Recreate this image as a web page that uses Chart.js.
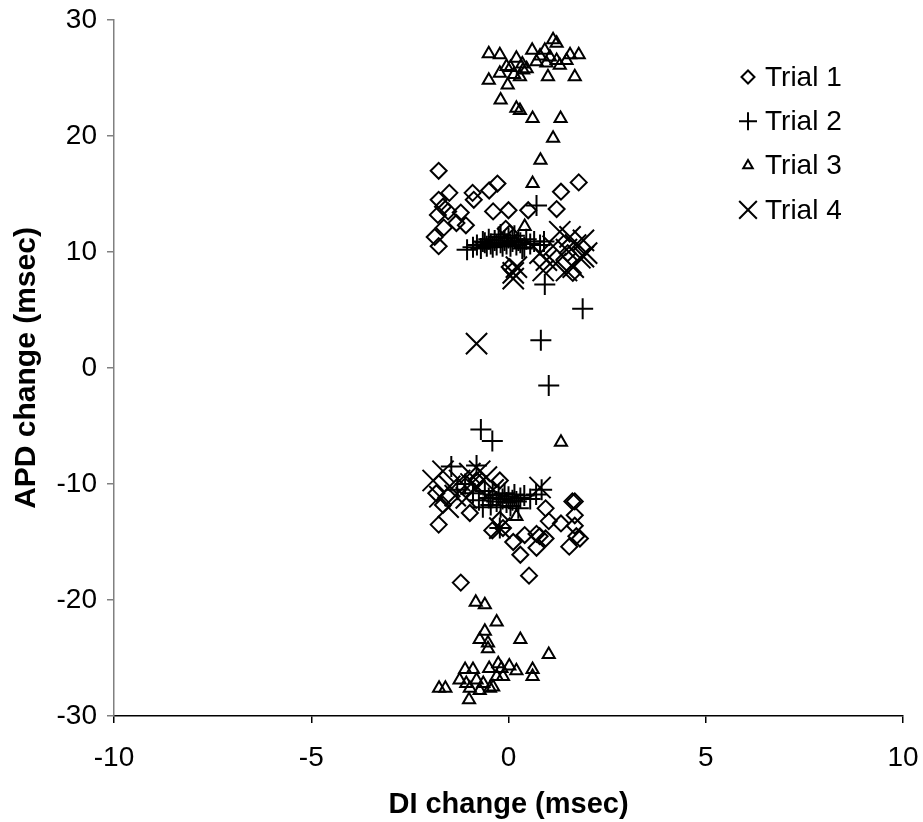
<!DOCTYPE html>
<html>
<head>
<meta charset="utf-8">
<script src="https://cdn.jsdelivr.net/npm/chart.js@4.4.1/dist/chart.umd.min.js"></script>
<style>
  html, body { margin: 0; padding: 0; background: #fff; }
  #wrap { width: 923px; height: 822px; }
</style>
</head>
<body>
<div id="wrap"><canvas id="apd-chart" width="923" height="822"></canvas></div>
<script>
// ── data: [DI change, APD change] ──
const trial1 = [
  [-1.77, 17.0], [-1.5, 15.1], [-1.77, 14.5], [-0.91, 15.1], [-0.88, 14.5], [-0.49, 15.3],
  [-0.28, 15.9], [-0.39, 13.5], [0.0, 13.6], [0.5, 13.6], [1.22, 13.7], [1.33, 15.2],
  [1.78, 16.0], [-1.66, 13.9], [-1.53, 13.5], [-1.79, 13.2], [-1.21, 13.4], [-1.32, 12.5],
  [-1.08, 12.3], [-1.64, 12.1], [-1.87, 11.3], [-1.77, 10.5], [-0.07, 12.0], [0.03, 11.6],
  [0.03, 8.7], [0.11, 8.4], [1.63, 8.2], [1.5, 9.9],
  [-1.77, -13.5], [-1.21, -18.5], [0.52, -17.9], [-0.41, -14.0], [-0.22, -13.1], [0.12, -15.0],
  [0.3, -16.1], [0.41, -14.4], [0.71, -15.5], [0.79, -14.5], [0.94, -14.7], [0.94, -12.1],
  [1.02, -13.2], [1.33, -13.4], [1.54, -15.4], [1.68, -11.5], [1.62, -11.5], [1.68, -12.7],
  [1.68, -13.6], [1.81, -14.7], [1.72, -14.5], [0.71, -14.3], [-1.83, -10.8], [-1.66, -11.8],
  [-0.98, -12.5], [-0.81, -9.7], [-0.22, -9.7], [-0.14, -13.8]
];
const trial2 = [
  [-1.05, 10.2], [-0.9, 10.4], [-0.8, 10.6], [-0.7, 10.3], [-0.65, 10.9], [-0.55, 10.5],
  [-0.5, 11.1], [-0.45, 10.7], [-0.4, 10.4], [-0.35, 11.0], [-0.3, 10.6], [-0.25, 11.3],
  [-0.2, 10.8], [-0.15, 10.5], [-0.1, 11.0], [-0.05, 10.7], [0.0, 11.2], [0.05, 10.5],
  [0.1, 10.9], [0.15, 11.4], [0.2, 10.6], [0.25, 11.0], [0.3, 10.8], [0.4, 10.4],
  [0.45, 11.1], [0.55, 10.7], [0.65, 10.9], [0.8, 10.6], [0.9, 10.9], [-0.6, 10.8],
  [0.35, 10.3], [-0.2, 11.5],
  [0.71, 14.0], [0.92, 7.2], [1.88, 5.1], [0.82, 2.4], [1.02, -1.5], [-0.7, -5.3], [-0.41, -6.3],
  [-1.45, -8.5], [-0.81, -8.4], [-1.3, -10.5], [-1.1, -10.0], [-0.9, -10.8], [-0.75, -11.4],
  [-0.6, -10.6], [-0.5, -11.2], [-0.45, -11.8], [-0.4, -10.9], [-0.3, -11.5], [-0.25, -11.0],
  [-0.2, -12.0], [-0.15, -11.3], [-0.1, -10.8], [-0.05, -11.6], [0.0, -11.1], [0.05, -11.9],
  [0.1, -11.4], [0.15, -10.9], [0.2, -11.5], [0.3, -11.2], [0.4, -11.0], [0.55, -11.3],
  [0.7, -10.9], [0.84, -10.5], [-0.22, -13.8], [-0.65, -12.0], [0.25, -12.1]
];
const trial3 = [
  [-0.5, 27.1], [-0.22, 27.0], [0.2, 26.7], [0.6, 27.4], [0.92, 27.4], [1.13, 28.3],
  [1.22, 28.0], [1.56, 27.0], [1.78, 27.0], [-0.5, 24.8], [-0.22, 25.4], [-0.02, 24.4],
  [-0.05, 26.0], [0.29, 25.1], [0.46, 25.8], [0.71, 26.4], [1.0, 25.1], [1.22, 26.5],
  [1.47, 26.5], [1.68, 25.1], [1.3, 26.1], [0.96, 26.3], [0.37, 25.7], [0.14, 25.3],
  [-0.2, 23.1], [0.2, 22.4], [0.29, 22.2], [0.61, 21.5], [1.32, 21.5], [1.13, 19.8],
  [0.81, 17.9], [0.61, 15.9], [0.41, 12.2], [1.33, -6.4], [0.2, -12.8],
  [-0.83, -20.2], [-0.6, -20.4], [-0.3, -21.9], [-0.6, -22.7], [-0.73, -23.4], [-0.52, -23.7],
  [-0.52, -24.2], [0.3, -23.4], [1.02, -24.7], [0.61, -26.0], [0.61, -26.6], [0.2, -26.1],
  [0.02, -25.7], [-0.26, -25.5], [-0.18, -25.9], [-0.49, -25.9], [-0.9, -26.0], [-1.1, -26.0],
  [-1.24, -26.9], [-1.07, -27.2], [-0.98, -27.6], [-0.73, -27.8], [-0.64, -27.2], [-0.39, -27.5],
  [-0.3, -26.6], [-0.14, -26.6], [-1.76, -27.6], [-1.6, -27.6], [-1.0, -28.6], [-0.47, -27.6],
  [-0.81, -26.9], [0.35, 26.2], [0.8, 26.9], [1.05, 26.8], [0.05, 25.9]
];
const trial4 = [
  [1.3, 11.75], [1.56, 11.3], [1.9, 11.0], [1.98, 9.9], [1.81, 9.5], [1.47, 10.2],
  [1.13, 10.5], [0.96, 9.3], [1.64, 8.7], [0.2, 8.7], [0.12, 8.2], [0.12, 7.7],
  [0.88, 8.4], [1.47, 8.4], [1.9, 9.6], [0.8, 9.9], [1.7, 10.6], [1.2, 9.0],
  [-0.81, 2.1],
  [-1.91, -9.7], [-1.66, -8.9], [-1.49, -10.2], [-1.74, -11.1], [-1.53, -12.0], [-1.24, -9.7],
  [-0.98, -9.1], [-0.73, -8.9], [-0.56, -9.4], [-0.81, -10.2], [-1.07, -11.2], [-0.39, -10.5],
  [-0.22, -13.8], [0.8, -10.3], [-1.35, -11.0], [-0.95, -10.0]
];
const seriesNames = ['Trial 1', 'Trial 2', 'Trial 3', 'Trial 4'];
const xTicks = [-10, -5, 0, 5, 10];
const yTicks = [-30, -20, -10, 0, 10, 20, 30];

const FONT = 'Arial, "Liberation Sans", sans-serif';

const styles = [
  { pointStyle: 'rectRot', radius: 8, legendRadius: 6.5 },
  { pointStyle: 'cross', radius: 10.5, legendRadius: 9 },
  { pointStyle: 'triangle', radius: 7, legendRadius: 5.5 },
  { pointStyle: 'crossRot', radius: 15, legendRadius: 12.5 }
];

const toPoints = arr => arr.map(p => ({ x: p[0], y: p[1] }));

// legend drawn inside the plot, top right, like the original
const insideLegend = {
  id: 'insideLegend',
  afterDraw(chart) {
    const ctx = chart.ctx;
    ctx.save();
    chart.data.datasets.forEach((ds, i) => {
      const y = 77 + i * 44.3;
      ctx.lineWidth = 2;
      ctx.strokeStyle = '#000';
      ctx.fillStyle = 'rgba(0,0,0,0)';
      Chart.helpers.drawPoint(ctx, { pointStyle: ds.pointStyle, radius: styles[i].legendRadius, borderWidth: 2 }, 748, y);
      ctx.fillStyle = '#000';
      ctx.font = '28px ' + FONT;
      ctx.textBaseline = 'middle';
      ctx.textAlign = 'left';
      ctx.fillText(ds.label, 765, y + 1);
    });
    ctx.restore();
  }
};

const ctx = document.getElementById('apd-chart').getContext('2d');
new Chart(ctx, {
  type: 'scatter',
  data: {
    datasets: [trial1, trial2, trial3, trial4].map((d, i) => ({
      label: seriesNames[i],
      data: toPoints(d),
      pointStyle: styles[i].pointStyle,
      pointRadius: styles[i].radius,
      pointHoverRadius: styles[i].radius,
      pointBorderWidth: 2,
      borderColor: '#000',
      backgroundColor: 'rgba(0,0,0,0)'
    }))
  },
  options: {
    responsive: false,
    animation: false,
    layout: { padding: { top: 20, right: 20, left: 0, bottom: 0 } },
    plugins: { legend: { display: false }, tooltip: { enabled: false } },
    scales: {
      x: {
        type: 'linear', min: -10, max: 10,
        afterBuildTicks: s => { s.ticks = xTicks.map(v => ({ value: v })); },
        afterFit: s => { s.height = 106; s.paddingLeft = 0; s.paddingRight = 0; },
        grid: { drawOnChartArea: false, drawTicks: true, tickLength: 7, color: '#000', lineWidth: 1.5 },
        border: { display: true, color: '#000', width: 1.5 },
        ticks: { color: '#000', font: { family: FONT, size: 28 }, padding: 18, maxRotation: 0 },
        title: { display: true, text: 'DI change (msec)', color: '#000', font: { family: FONT, size: 29, weight: 'bold' }, padding: { top: 0, bottom: 0 } }
      },
      y: {
        type: 'linear', min: -30, max: 30,
        afterBuildTicks: s => { s.ticks = yTicks.map(v => ({ value: v })); },
        afterFit: s => { s.width = 114; s.paddingTop = 0; s.paddingBottom = 0; },
        grid: { drawOnChartArea: false, drawTicks: true, tickLength: 7, color: '#808080', lineWidth: 1.5 },
        border: { display: true, color: '#808080', width: 1.5 },
        ticks: { color: '#000', font: { family: FONT, size: 28 }, padding: 10 },
        title: { display: true, text: 'APD change (msec)', color: '#000', font: { family: FONT, size: 30, weight: 'bold' }, padding: { top: 9, bottom: 0 } }
      }
    }
  },
  plugins: [insideLegend]
});
</script>
</body>
</html>
